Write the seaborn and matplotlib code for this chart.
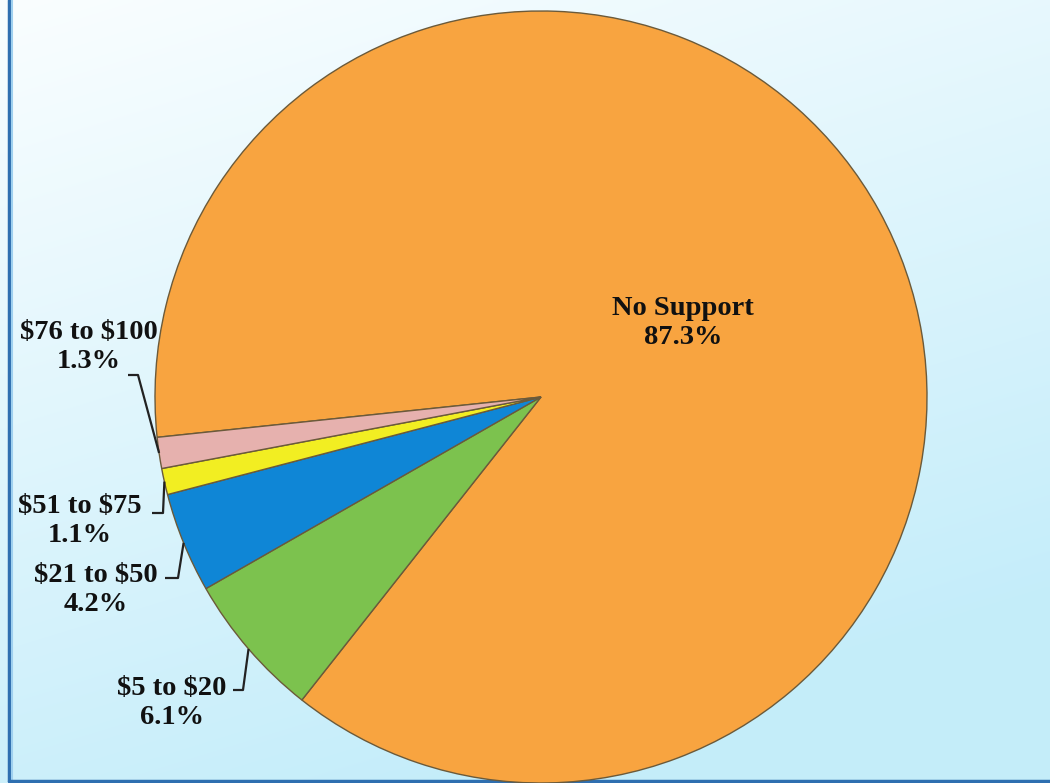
import numpy as np
import matplotlib
matplotlib.use("Agg")
import matplotlib.pyplot as plt
import seaborn as sns

# ---- data ----
categories = ["No Support", "$5 to $20", "$21 to $50", "$51 to $75", "$76 to $100"]
percentages = [87.3, 6.1, 4.2, 1.1, 1.3]
slice_colors = ["#F8A440", "#7CC24E", "#0F86D6", "#F2EE22", "#E6B1AE"]

sns.set_theme(style="white")
plt.rcParams["font.family"] = ["Liberation Serif", "DejaVu Serif"]

W, H = 1050, 783
fig = plt.figure(figsize=(W / 100, H / 100), dpi=100)

# background gradient
bg = fig.add_axes([0, 0, 1, 1])
yy, xx = np.mgrid[0:1:200j, 0:1:200j]
t = np.clip(0.35 * xx + 0.85 * yy, 0, 1)
c0 = np.array([0.98, 0.995, 1.0])
c1 = np.array([0.77, 0.93, 0.98])
img = c0[None, None, :] * (1 - t[..., None]) + c1[None, None, :] * t[..., None]
bg.imshow(img, extent=[0, W, H, 0], aspect="auto", interpolation="bilinear")
bg.plot([9, 9], [0, 781], color="#2f6fb0", lw=2.5)
bg.plot([12, 12], [0, 781], color="#9fd0ef", lw=1.5)
bg.plot([9, W], [781, 781], color="#2f6fb0", lw=2.5)
bg.set_xlim(0, W)
bg.set_ylim(H, 0)
bg.axis("off")

ax = fig.add_axes([0, 0, 1, 1])
ax.patch.set_alpha(0)
cx, cy, r = 541, H - 397, 386
wedges, _ = ax.pie(
    percentages,
    colors=slice_colors,
    startangle=186,
    counterclock=False,
    center=(cx, cy),
    radius=r,
    wedgeprops=dict(edgecolor="#6b5a3a", linewidth=1.0),
)
ax.set_xlim(0, W)
ax.set_ylim(0, H)
ax.set_aspect("equal")
ax.axis("off")

fs = 20.5
tkw = dict(fontsize=fs, fontweight="bold", color="#111111", ha="center",
           va="center", linespacing=1.25)

# main label
ax.text(683, H - 323, f"{categories[0]}\n{percentages[0]:.1f}%", **tkw)

# small-slice labels with leader lines (layout positions in pixels)
label_pos = {1: (172, 703), 2: (96, 590), 3: (80, 521), 4: (89, 347)}
hook_pos = {1: (233, 243, 690), 2: (165, 178, 578), 3: (152, 163, 513), 4: (128, 138, 375)}
for i, (px, py) in label_pos.items():
    w = wedges[i]
    ang = np.deg2rad((w.theta1 + w.theta2) / 2)
    ex, ey = cx + r * np.cos(ang), cy + r * np.sin(ang)
    txt = categories[i].replace("$", r"\$")
    ax.text(px, H - py, f"{txt}\n{percentages[i]:.1f}%", **tkw)
    x0, x1, hy = hook_pos[i]
    ax.plot([x0, x1, ex], [H - hy, H - hy, ey], color="#222222", lw=1.6,
            solid_capstyle="butt")

fig.savefig("out.png", dpi=100)
